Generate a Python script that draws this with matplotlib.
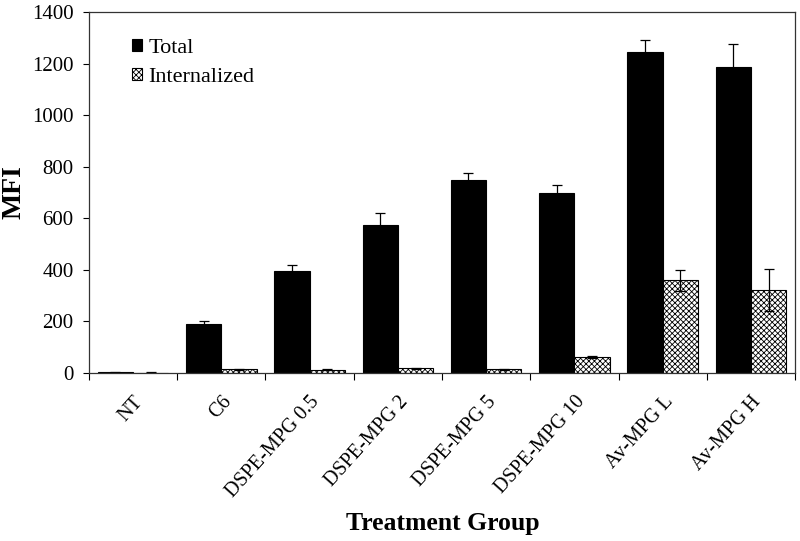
import numpy as np
import matplotlib
matplotlib.use('Agg')
import matplotlib.pyplot as plt

plt.rcParams['font.family'] = ['Liberation Serif', 'DejaVu Serif']
plt.rcParams['hatch.linewidth'] = 0.6

# Valorile
groups = ['NT', 'C6', 'DSPE-MPG 0.5', 'DSPE-MPG 2', 'DSPE-MPG 5',
          'DSPE-MPG 10', 'Av-MPG L', 'Av-MPG H']
total = [3, 190, 395, 575, 750, 698, 1245, 1188]
total_err = [2, 10, 25, 45, 25, 30, 47, 90]
internal = [2, 15, 12, 18, 15, 62, 360, 322]
internal_err = [1, 2, 2, 2, 2, 5, 40, 80]

fig = plt.figure(figsize=(8, 5.41), dpi=100)
ax = fig.add_axes([0.111, 0.3105, 0.883, 0.667])

x = np.arange(len(groups))
w = 0.4

ax.bar(x - w / 2, total, w, color='black', edgecolor='black', linewidth=0.8,
       yerr=total_err, error_kw=dict(ecolor='black', elinewidth=0.9, capsize=3.5, capthick=0.9),
       label='Total')
ax.bar(x + w / 2, internal, w, color='white', edgecolor='black', linewidth=0.8,
       hatch='xxxxxx', yerr=internal_err,
       error_kw=dict(ecolor='black', elinewidth=0.9, capsize=3.5, capthick=0.9),
       label='Internalized')

ax.set_xlim(-0.5, len(groups) - 0.5)
ax.set_ylim(0, 1400)
ax.set_yticks(range(0, 1401, 200))
ax.tick_params(axis='y', labelsize=15, direction='out', length=4, width=0.8, pad=7)

# tick-uri intre grupuri, etichete centrate pe grup
ax.set_xticks(np.arange(-0.5, len(groups), 1.0))
ax.set_xticklabels([])
ax.set_xticks(x, minor=True)
ax.set_xticklabels(groups, minor=True, rotation=48, ha='right',
                   rotation_mode='anchor', fontsize=14.5)
ax.tick_params(axis='x', which='major', direction='out', length=5, width=0.8)
ax.tick_params(axis='x', which='minor', length=0, pad=14)

for s in ax.spines.values():
    s.set_linewidth(0.9)
    s.set_color('#333333')

# etichetele axelor
fig.text(0.017, 0.645, 'MFI', fontsize=20, fontweight='bold',
         rotation=90, ha='center', va='center')
fig.text(0.553, 0.033, 'Treatment Group', fontsize=18.5, fontweight='bold',
         ha='center', va='center')

ax.legend(loc='upper left', bbox_to_anchor=(0.061, 0.925), frameon=False,
          fontsize=16, handlelength=0.45, handleheight=0.45, handletextpad=0.3,
          labelspacing=0.45, borderpad=0, borderaxespad=0)

plt.savefig('out.png', dpi=100)
